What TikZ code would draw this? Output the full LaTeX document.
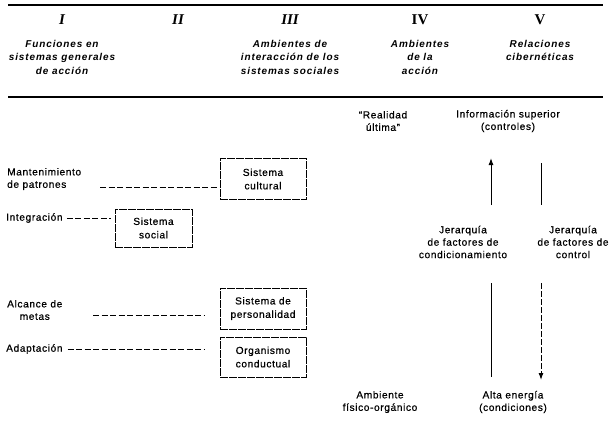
\documentclass[tikz,border=0pt]{standalone}
\usepackage{fontspec}
\setmainfont{Liberation Sans}
\newfontfamily\bodyfont[FakeBold=0.6,LetterSpace=6]{Liberation Sans}
\newfontfamily\headfont[LetterSpace=9]{Liberation Sans}
\newfontfamily\numfont{Liberation Serif}
\usetikzlibrary{arrows.meta}
\begin{document}
\begin{tikzpicture}[x=1bp,y=-1bp,
  txt/.style={font=\bodyfont\fontsize{10.2}{12.5}\selectfont, inner sep=0pt, align=center},
  head/.style={font=\headfont\fontsize{10}{13.5}\selectfont\itshape\bfseries, inner sep=0pt, align=center},
  num/.style={font=\numfont\fontsize{15}{15}\selectfont\bfseries, inner sep=0pt},
  sysbox/.style={draw, line width=0.8bp, dash pattern=on 8bp off 1bp, minimum width=86bp, minimum height=41bp, inner sep=0pt, align=center, font=\bodyfont\fontsize{10.2}{13.5}\selectfont},
  conn/.style={line width=0.9bp, dash pattern=on 6bp off 2.5bp},
  rule/.style={line width=1.3bp},
  vline/.style={line width=1bp}]
\useasboundingbox (0,0) rectangle (612,420);

% rules
\coordinate (r1a) at (8,5);  \coordinate (r1b) at (603,5);
\coordinate (r2a) at (8,97); \coordinate (r2b) at (603,97);
\draw[rule] (r1a) -- (r1b);
\draw[rule] (r2a) -- (r2b);

% numerals
\node[num] (n1) at (62,20) {\itshape I};
\node[num] (n2) at (178,20) {\itshape II};
\node[num] (n3) at (290,20) {\itshape III};
\node[num] (n4) at (420,20) {IV};
\node[num] (n5) at (540,20) {V};

% headings
\node[head] (h1) at (62,57) {Funciones en\\sistemas generales\\de acción};
\node[head] (h3) at (290,57) {Ambientes de\\interacción de los\\sistemas sociales};
\node[head] (h4) at (420,57) {Ambientes\\de la\\acción};
\node[head] (h5) at (540,50.5) {Relaciones\\cibernéticas};

% boxes
\node[sysbox] (cult) at (263,179) {Sistema\\cultural};
\node[sysbox, minimum width=77bp, minimum height=38bp] (soc) at (153.5,228) {Sistema\\social};
\node[sysbox] (pers) at (263,308.5) {Sistema de\\personalidad};
\node[sysbox, minimum height=40bp] (org) at (263,357) {Organismo\\conductual};

% left labels
\node[txt, anchor=west, align=left] (mant) at (7,179) {Mantenimiento\\de patrones};
\node[txt, anchor=west] (integ) at (6,218) {Integración};
\node[txt, anchor=west] (alc) at (7,310) {Alcance de\\metas};
\node[txt, anchor=west] (adapt) at (6,349) {Adaptación};

% connectors
\coordinate (c1) at (100,187);
\draw[conn] (c1) -- ([xshift=-3bp]cult.west |- c1);
\draw[conn] ([xshift=4bp]integ.east) -- ([xshift=-4bp]soc.west |- integ.east);
\coordinate (c3) at (93,315);
\draw[conn] (c3) -- ([xshift=-15bp]pers.west |- c3);
\draw[conn] ([xshift=5bp]adapt.east) -- ([xshift=-15bp]org.west |- adapt.east);

% right texts
\node[txt] (real) at (383,121) {“Realidad\\última”};
\node[txt] (info) at (508,121) {Información superior\\(controles)};
\node[txt] (jcond) at (463,242) {Jerarquía\\de factores de\\condicionamiento};
\node[txt] (jctrl) at (573,242) {Jerarquía\\de factores de\\control};
\node[txt] (amb) at (380,402) {Ambiente\\físico-orgánico};
\node[txt] (alta) at (513,402) {Alta energía\\(condiciones)};

% vertical lines
\coordinate (a1) at (491,205); \coordinate (a2) at (491,158);
\coordinate (b1) at (541,163); \coordinate (b2) at (541,205);
\coordinate (d1) at (491,283); \coordinate (d2) at (491,377);
\coordinate (e1) at (541,283); \coordinate (e2) at (541,380);
\draw[vline, -{Latex[length=7bp,width=5bp]}] (a1) -- (a2);
\draw[vline] (b1) -- (b2);
\draw[vline] (d1) -- (d2);
\draw[vline, dash pattern=on 6bp off 2bp, -{Latex[length=7bp,width=5bp]}] (e1) -- (e2);
\end{tikzpicture}
\end{document}
